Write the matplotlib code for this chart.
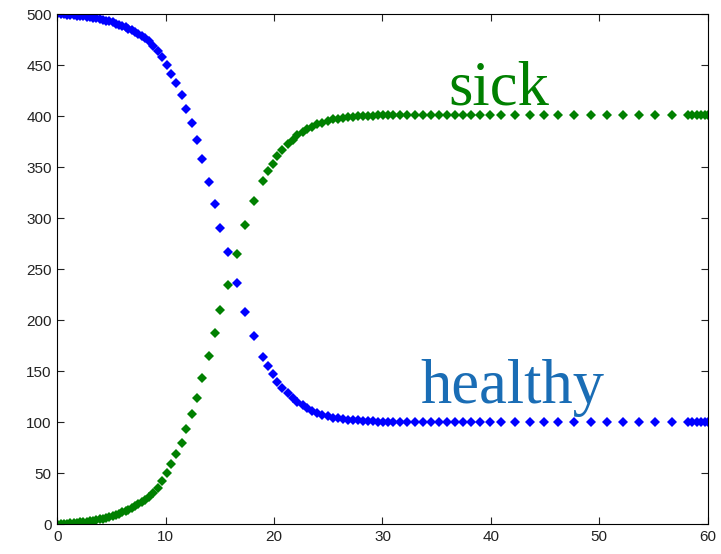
import matplotlib
matplotlib.use('Agg')
import matplotlib.pyplot as plt

# time steps of the solver (shared by both series)
t = [0.0, 0.3, 0.6, 0.9, 1.2, 1.5, 1.8, 2.1, 2.4, 2.7, 3.0, 3.3, 3.6, 3.9, 4.2, 4.5,
     4.8, 5.1, 5.4, 5.7, 6.0, 6.3, 6.55, 6.86, 7.17, 7.47, 7.78, 8.09, 8.46, 8.86,
     9.26, 9.69, 10.12, 10.52, 10.94, 11.47, 11.89, 12.43, 12.86, 13.37, 13.97,
     14.52, 15.04, 15.75, 16.58, 17.29, 18.12, 18.95, 19.46, 19.90, 20.30, 20.73,
     21.25, 21.72, 22.11, 22.69, 23.03, 23.47, 23.93, 24.45, 24.94, 25.46, 25.92,
     26.38, 26.85, 27.31, 27.77, 28.23, 28.69, 29.15, 29.61, 30.07, 30.54, 31.0,
     31.61, 32.3, 33.03, 33.76, 34.5, 35.24, 35.98, 36.72, 37.45, 38.19, 39.0,
     39.92, 40.96, 42.25, 43.6, 44.9, 46.2, 47.7, 49.2, 50.7, 52.2, 53.65, 55.15,
     56.7, 58.2, 58.6, 59.0, 59.4, 59.8, 60.0]

healthy = [500.0, 499.8, 499.6, 499.3, 499.1, 498.8, 498.5, 498.1, 497.7, 497.3,
           496.9, 496.3, 495.8, 495.1, 494.4, 493.6, 492.7, 491.7, 490.6, 489.5,
           488.2, 486.9, 485.6, 484.0, 482.3, 480.5, 478.4, 476.2, 473.2, 469.0,
           464.0, 457.5, 450.0, 441.5, 432.0, 420.5, 407.3, 393.0, 376.7, 357.8,
           335.9, 313.8, 290.6, 267.1, 236.5, 208.5, 184.5, 164.4, 155.0, 147.4,
           140.0, 134.0, 128.7, 124.3, 120.0, 116.5, 113.8, 111.0, 109.0, 107.5,
           106.0, 104.5, 103.8, 103.2, 102.6, 102.2, 101.8, 101.5, 101.2, 101.0,
           100.8, 100.6, 100.5, 100.4, 100.3, 100.2, 100.15, 100.1, 100.1, 100.05,
           100.05, 100.0, 100.0, 100.0, 100.0, 100.0, 100.0, 100.0, 100.0, 100.0,
           100.0, 100.0, 100.0, 100.0, 100.0, 100.0, 100.0, 100.0, 100.0, 100.0,
           100.0, 100.0, 100.0, 100.0]

sick = [0.0, 0.3, 0.5, 0.7, 0.9, 1.2, 1.5, 1.9, 2.3, 2.7, 3.2, 3.7, 4.2, 4.9, 5.6,
        6.4, 7.3, 8.3, 9.4, 10.6, 11.8, 13.2, 14.5, 16.0, 17.8, 19.6, 21.6, 23.9,
        26.8, 31.0, 36.0, 42.5, 50.5, 59.0, 68.5, 80.0, 93.5, 108.0, 124.3, 143.2,
        165.0, 187.2, 210.4, 234.3, 265.0, 293.0, 316.5, 336.0, 346.0, 353.2,
        360.5, 366.6, 372.2, 376.7, 381.0, 384.7, 387.3, 389.8, 391.8, 393.6,
        395.2, 396.8, 397.6, 398.2, 398.8, 399.3, 399.7, 400.0, 400.3, 400.5,
        400.7, 400.9, 401.0, 401.1, 401.2, 401.3, 401.35, 401.4, 401.4, 401.45,
        401.45, 401.5, 401.5, 401.5, 401.5, 401.5, 401.5, 401.5, 401.5, 401.5,
        401.5, 401.5, 401.5, 401.5, 401.5, 401.5, 401.5, 401.5, 401.5, 401.5,
        401.5, 401.5, 401.5, 401.5]

xticks = [0, 10, 20, 30, 40, 50, 60]
yticks = [0, 50, 100, 150, 200, 250, 300, 350, 400, 450, 500]

fig = plt.figure(figsize=(7.21, 5.54), dpi=100)
ax = fig.add_axes([0.0795, 0.0534, 0.902, 0.9213])

ax.plot(t, healthy, linestyle='none', marker='D', markersize=4.6,
        markeredgewidth=0, color='#0000ff')
ax.plot(t, sick, linestyle='none', marker='D', markersize=4.6,
        markeredgewidth=0, color='#008000')

ax.set_xlim(0, 60)
ax.set_ylim(0, 500)
ax.set_xticks(xticks)
ax.set_yticks(yticks)
ax.tick_params(direction='in', length=5, width=0.8, top=True, right=True,
               labelsize=11, colors='#222222', pad=4)
for lab in ax.get_xticklabels() + ax.get_yticklabels():
    lab.set_family('Liberation Sans')
for sp in ax.spines.values():
    sp.set_linewidth(0.8)

# curve labels
ax.text(36.1, 411.8, 'sick', color='#008000', fontsize=45,
        family='Liberation Serif', ha='left', va='baseline')
ax.text(33.5, 118.6, 'healthy', color='#1a6db5', fontsize=45,
        family='Liberation Serif', ha='left', va='baseline')

fig.savefig('out.png', dpi=100)
